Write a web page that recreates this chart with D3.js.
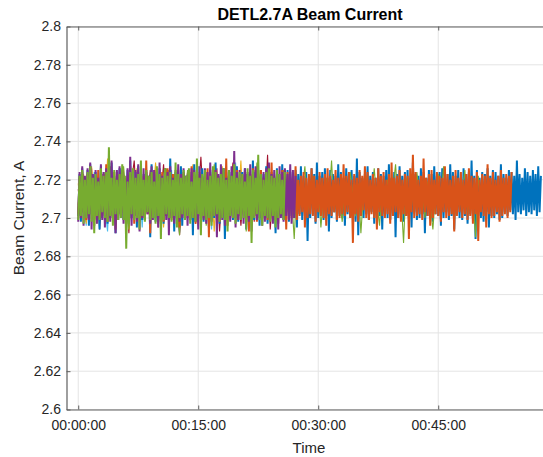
<!DOCTYPE html>
<html>
<head>
<meta charset="utf-8">
<script src="https://cdn.jsdelivr.net/npm/d3@7"></script>
<style>
  html, body { margin: 0; padding: 0; background: #fff; overflow: hidden; }
  svg { display: block; }
</style>
</head>
<body>
<svg id="chart" width="543" height="457"></svg>
<script>
// ---- Axis ticks -------------------------------------------------------
const yTicks = [2.6, 2.62, 2.64, 2.66, 2.68, 2.7, 2.72, 2.74, 2.76, 2.78, 2.8];
const yTickLabels = ["2.6", "2.62", "2.64", "2.66", "2.68", "2.7", "2.72", "2.74", "2.76", "2.78", "2.8"];
const xTickSeconds = [0, 900, 1800, 2700];
const xTickLabels = ["00:00:00", "00:15:00", "00:30:00", "00:45:00"];

// ---- Short runs: raw readings (A), one every 20 s ----------------------
const rawStepSeconds = 20;

const currentRunLightBlue = [
2.704,2.720,2.711,2.696,2.716,2.708,2.724,2.701,2.713,2.719,
2.706,2.693,2.722,2.710,2.715,2.702,2.726,2.712,2.699,2.718,
2.709,2.721,2.705,2.714,2.695,2.723,2.711,2.717,2.700,2.728,
2.707,2.713,2.697,2.720,2.710,2.725,2.703,2.716,2.692,2.719,
2.712,2.706,2.722,2.698,2.715,2.727,2.708,2.718,2.701,2.711,
2.694,2.721,2.714,2.704,2.724,2.709,2.717,2.699,2.713,2.729,
2.705,2.719,2.710,2.696,2.722,2.707,2.715,2.726,2.702,2.712,
2.718,2.708];

const currentRunDarkRed = [
2.715,2.703,2.722,2.698,2.711,2.726,2.707,2.718,2.694,2.713,
2.720,2.701,2.727,2.709,2.696,2.716,2.723,2.705,2.712,2.692,
2.719,2.730,2.704,2.714,2.699,2.721,2.710,2.725,2.702,2.717,
2.695,2.712,2.728,2.706,2.718,2.700,2.723,2.711,2.691,2.715,
2.708,2.724,2.703,2.719,2.697,2.713,2.732,2.707,2.716,2.699,
2.721,2.710,2.726,2.693,2.714,2.704,2.720,2.709,2.729,2.701,
2.717,2.696,2.712,2.723,2.706,2.718,2.698,2.725,2.711,2.715,
2.703,2.733,2.694,2.713,2.719];

const currentRunYellow = [
2.718,2.706,2.723,2.697,2.712,2.727,2.709,2.715,2.700,2.721,
2.705,2.731,2.711,2.698,2.717,2.708,2.724,2.702,2.714,2.694,
2.720,2.710,2.726,2.704,2.716,2.699,2.722,2.713,2.707,2.729,
2.701,2.718,2.695,2.711,2.725,2.708,2.719,2.698,2.714,2.723,
2.706,2.716,2.700,2.728,2.712,2.696,2.720,2.709,2.724,2.703,
2.715,2.693,2.721,2.711,2.727,2.705,2.717,2.699,2.713,2.722,
2.708,2.730,2.702,2.719,2.697,2.714,2.725,2.710,2.716,2.704,
2.720,2.698,2.712,2.718];

const currentRunGreenLong = [
2.707,2.719,2.702,2.714,2.722,2.705,2.711,2.697,2.717,2.709,
2.724,2.703,2.713,2.720,2.700,2.716,2.708,2.727,2.712,2.694,
2.718,2.710,2.704,2.721,2.715,2.701,2.719,2.706,2.723,2.711,
2.698,2.716,2.709,2.726,2.713,2.703,2.720,2.707,2.691,2.717,
2.712,2.725,2.705,2.714,2.701,2.722,2.710,2.718,2.696,2.715,
2.708,2.728,2.703,2.719,2.711,2.699,2.721,2.706,2.716,2.724,
2.709,2.702,2.717,2.693,2.713,2.720,2.705,2.729,2.712,2.700,
2.718,2.707,2.723,2.714,2.697,2.716,2.710,2.725,2.704,2.719,
2.711,2.689,2.720,2.708,2.715,2.727,2.702,2.713,2.722,2.706,
2.717,2.695,2.712,2.721,2.709,2.730,2.703,2.716,2.711,2.698,
2.719,2.707,2.724,2.713,2.701,2.718,2.692,2.714,2.722,2.705,
2.710,2.726,2.708,2.696,2.717,2.712,2.720,2.703,2.715,2.728,
2.706,2.713,2.687,2.721,2.709,2.718,2.702,2.724,2.711,2.716,
2.700,2.719,2.707,2.694,2.714,2.723,2.710,2.727,2.704,2.717,
2.712,2.697,2.720,2.708,2.715,2.725,2.701,2.718,2.711,2.690,
2.722,2.706,2.716,2.709,2.719,2.713];

// ---- Long runs: per-interval high / low readings (A), 20 s intervals ----
const binStepSeconds = 20;

const currentRunBlueHigh = [
2.723,2.726,2.721,2.725,2.728,2.722,2.724,2.720,2.727,2.723,
2.725,2.722,2.729,2.721,2.724,2.726,2.723,2.720,2.725,2.730,
2.722,2.724,2.727,2.721,2.723,2.725,2.722,2.728,2.724,2.721,
2.726,2.723,2.720,2.725,2.731,2.722,2.724,2.721,2.727,2.723,
2.722,2.725,2.724,2.728,2.721,2.723,2.726,2.722,2.720,2.725,
2.724,2.729,2.722,2.723,2.726,2.721,2.725,2.724,2.722,2.727,
2.721,2.724,2.726,2.723,2.722,2.730,2.724,2.721,2.725,2.723,
2.727,2.722,2.724,2.721,2.726,2.723,2.728,2.722,2.725,2.724,
2.721,2.725,2.723,2.727,2.722,2.724,2.720,2.726,2.723,2.729,
2.722,2.724,2.726,2.721,2.725,2.723,2.722,2.728,2.724,2.721,
2.726,2.723,2.725,2.722,2.731,2.724,2.721,2.723,2.727,2.722,
2.724,2.721,2.726,2.723,2.722,2.725,2.728,2.721,2.724,2.723,
2.727,2.722,2.724,2.725,2.721,2.729,2.723,2.722,2.726,2.724,
2.721,2.725,2.723,2.727,2.722,2.724,2.726,2.721,2.723,2.728,
2.724,2.722,2.725,2.721,2.726,2.723,2.724,2.730,2.722,2.725,
2.721,2.724,2.723,2.726,2.722,2.725,2.724,2.722,2.728,2.723,
2.721,2.725,2.724,2.722,2.730,2.723,2.721,2.726,2.724,2.722,
2.725,2.723,2.727,2.722];

const currentRunBlueLow = [
2.701,2.698,2.703,2.700,2.696,2.702,2.699,2.701,2.694,2.700,
2.702,2.697,2.700,2.701,2.692,2.702,2.700,2.699,2.703,2.698,
2.700,2.701,2.695,2.702,2.699,2.700,2.703,2.690,2.701,2.698,
2.702,2.700,2.697,2.701,2.699,2.702,2.693,2.700,2.701,2.696,
2.700,2.702,2.699,2.691,2.701,2.703,2.700,2.698,2.701,2.695,
2.702,2.700,2.701,2.697,2.700,2.689,2.702,2.701,2.699,2.700,
2.698,2.701,2.703,2.694,2.700,2.702,2.699,2.701,2.696,2.702,
2.700,2.697,2.701,2.702,2.692,2.700,2.701,2.699,2.703,2.698,
2.701,2.700,2.695,2.702,2.699,2.701,2.688,2.700,2.702,2.697,
2.700,2.702,2.699,2.701,2.693,2.700,2.703,2.698,2.701,2.700,
2.696,2.702,2.700,2.701,2.698,2.691,2.701,2.700,2.702,2.699,
2.703,2.697,2.700,2.701,2.694,2.702,2.700,2.699,2.701,2.690,
2.700,2.702,2.698,2.701,2.700,2.695,2.703,2.699,2.700,2.702,
2.692,2.701,2.700,2.698,2.702,2.701,2.696,2.700,2.703,2.699,
2.701,2.694,2.702,2.700,2.699,2.701,2.697,2.702,2.700,2.689,
2.701,2.700,2.698,2.703,2.695,2.701,2.700,2.702,2.699,2.700,
2.703,2.701,2.704,2.702,2.699,2.703,2.702,2.704,2.701,2.703,
2.702,2.704,2.701,2.703];

const currentRunOrangeHigh = [
2.721,2.724,2.720,2.723,2.726,2.722,2.719,2.725,2.721,2.723,
2.728,2.722,2.720,2.724,2.721,2.723,2.725,2.720,2.722,2.727,
2.723,2.721,2.724,2.720,2.722,2.730,2.721,2.723,2.725,2.720,
2.722,2.724,2.721,2.726,2.720,2.723,2.722,2.725,2.721,2.724,
2.720,2.723,2.727,2.722,2.721,2.724,2.720,2.722,2.726,2.723,
2.721,2.725,2.722,2.720,2.724,2.731,2.722,2.721,2.723,2.725,
2.720,2.722,2.724,2.721,2.723,2.726,2.720,2.722,2.725,2.721,
2.724,2.722,2.729,2.721,2.723,2.720,2.725,2.722,2.724,2.721,
2.723,2.727,2.720,2.722,2.724,2.721,2.723,2.726,2.722,2.720,
2.724,2.721,2.723,2.726,2.722,2.720,2.725,2.721,2.723,2.728,
2.722,2.724,2.720,2.723,2.721,2.725,2.722,2.727,2.724,2.720,
2.723,2.721,2.726,2.722,2.724,2.720,2.723,2.729,2.721,2.722,
2.725,2.720,2.723,2.722,2.726,2.733,2.724,2.720,2.722,2.731,
2.721,2.723,2.725,2.720,2.724,2.722,2.721,2.727,2.723,2.720,
2.722,2.725,2.721,2.724,2.720,2.723,2.726,2.722,2.721,2.724,
2.720,2.723,2.722,2.728,2.721,2.724,2.720,2.722,2.725,2.721,
2.723,2.722,2.724];

const currentRunOrangeLow = [
2.702,2.700,2.703,2.699,2.701,2.704,2.696,2.702,2.700,2.701,
2.703,2.698,2.701,2.700,2.694,2.702,2.701,2.703,2.699,2.700,
2.702,2.697,2.701,2.704,2.700,2.699,2.702,2.692,2.701,2.703,
2.700,2.702,2.698,2.701,2.703,2.699,2.700,2.702,2.695,2.701,
2.703,2.700,2.699,2.702,2.697,2.701,2.704,2.700,2.702,2.690,
2.701,2.703,2.700,2.698,2.702,2.701,2.696,2.703,2.700,2.702,
2.699,2.701,2.703,2.700,2.693,2.702,2.701,2.698,2.703,2.700,
2.702,2.699,2.701,2.704,2.700,2.697,2.702,2.701,2.694,2.703,
2.700,2.702,2.699,2.701,2.703,2.695,2.700,2.702,2.701,2.698,
2.703,2.701,2.700,2.696,2.702,2.701,2.703,2.699,2.700,2.702,
2.701,2.703,2.700,2.687,2.702,2.698,2.701,2.704,2.700,2.699,
2.702,2.700,2.694,2.703,2.701,2.700,2.702,2.697,2.701,2.703,
2.700,2.698,2.702,2.701,2.689,2.703,2.700,2.701,2.702,2.699,
2.703,2.701,2.696,2.700,2.702,2.701,2.698,2.703,2.700,2.701,
2.702,2.693,2.701,2.703,2.700,2.702,2.699,2.701,2.697,2.702,
2.688,2.703,2.701,2.695,2.702,2.700,2.701,2.703,2.698,2.701,
2.702,2.700,2.703];

const currentRunPurpleHigh = [
2.724,2.727,2.722,2.726,2.729,2.723,2.725,2.721,2.728,2.724,
2.726,2.723,2.730,2.722,2.725,2.727,2.724,2.721,2.726,2.732,
2.723,2.725,2.728,2.722,2.726,2.724,2.721,2.727,2.725,2.723,
2.729,2.722,2.726,2.724,2.727,2.721,2.725,2.728,2.723,2.726,
2.722,2.724,2.726,2.725,2.723,2.727,2.721,2.726,2.724,2.729,
2.722,2.725,2.723,2.728,2.726,2.721,2.724,2.727,2.735,2.724,
2.725,2.723,2.726,2.724,2.728,2.722,2.727,2.725,2.721,2.724,
2.726,2.729,2.723,2.725,2.722,2.727,2.724,2.726,2.723,2.728,
2.725,2.722];

const currentRunPurpleLow = [
2.698,2.700,2.696,2.701,2.699,2.694,2.702,2.697,2.700,2.699,
2.695,2.701,2.698,2.700,2.692,2.699,2.702,2.697,2.700,2.699,
2.696,2.701,2.698,2.693,2.700,2.699,2.702,2.697,2.699,2.700,
2.695,2.698,2.701,2.699,2.691,2.700,2.697,2.701,2.698,2.700,
2.699,2.696,2.702,2.700,2.698,2.694,2.701,2.699,2.697,2.700,
2.698,2.701,2.690,2.700,2.699,2.696,2.702,2.698,2.700,2.695,
2.699,2.701,2.697,2.700,2.698,2.693,2.701,2.699,2.700,2.696,
2.698,2.700,2.701,2.697,2.699,2.694,2.700,2.698,2.701,2.699,
2.697,2.700];

const currentRunGreenHigh = [
2.722,2.725,2.720,2.724,2.727,2.721,2.723,2.719,2.726,2.722,
2.724,2.737,2.721,2.725,2.720,2.723,2.728,2.722,2.719,2.724,
2.726,2.721,2.723,2.730,2.720,2.725,2.722,2.724,2.719,2.727,
2.723,2.721,2.726,2.722,2.724,2.720,2.729,2.723,2.721,2.725,
2.722,2.726,2.719,2.724,2.731,2.721,2.723,2.725,2.720,2.722,
2.727,2.724,2.721,2.723,2.726,2.720,2.725,2.722,2.728,2.721,
2.724,2.723,2.719,2.726,2.722,2.725,2.721,2.733,2.723,2.720,
2.724,2.726,2.722,2.721,2.725,2.723,2.720,2.724];

const currentRunGreenLow = [
2.699,2.701,2.697,2.700,2.702,2.698,2.692,2.701,2.699,2.703,
2.700,2.698,2.701,2.696,2.702,2.699,2.700,2.699,2.684,2.697,
2.702,2.699,2.700,2.694,2.701,2.698,2.703,2.699,2.700,2.697,
2.701,2.689,2.699,2.702,2.700,2.698,2.701,2.695,2.700,2.702,
2.699,2.701,2.697,2.700,2.698,2.702,2.691,2.701,2.699,2.700,
2.696,2.701,2.702,2.698,2.700,2.699,2.693,2.701,2.700,2.697,
2.702,2.699,2.700,2.698,2.701,2.687,2.700,2.702,2.699,2.696,
2.701,2.700,2.698,2.701,2.695,2.700,2.702,2.699];

// Drawing order: later runs sit on top of earlier ones.
const layers = [
  { kind: "raw",  values: currentRunLightBlue, color: "#4DBEEE" },
  { kind: "raw",  values: currentRunDarkRed,   color: "#A2142F" },
  { kind: "raw",  values: currentRunYellow,    color: "#EDB120" },
  { kind: "bins", high: currentRunBlueHigh,   low: currentRunBlueLow,   color: "#0072BD" },
  { kind: "raw",  values: currentRunGreenLong, color: "#77AC30" },
  { kind: "bins", high: currentRunOrangeHigh, low: currentRunOrangeLow, color: "#D95319" },
  { kind: "bins", high: currentRunPurpleHigh, low: currentRunPurpleLow, color: "#7E2F8E" },
  { kind: "bins", high: currentRunGreenHigh,  low: currentRunGreenLow,  color: "#77AC30" }
];

// ---- Layout ----------------------------------------------------------
const W = 543, H = 457;
const plotLeft = 66.5, plotTop = 26.5, plotBottom = 409.5;
const xDomain = [-88, 3570];
const pxPerSecond = 8 / 60;
const plotRight = plotLeft + (xDomain[1] - xDomain[0]) * pxPerSecond;
const font = "'Liberation Sans', Arial, Helvetica, sans-serif";
const textColor = "#262626";
const axisColor = "#5e5e5e";
const gridColor = "#e4e4e4";

const svg = d3.select("#chart");
svg.append("rect").attr("width", W).attr("height", H).attr("fill", "#fff");

const x = d3.scaleLinear().domain(xDomain).range([plotLeft, plotRight]);
const y = d3.scaleLinear().domain([2.6, 2.8]).range([plotBottom, plotTop]);

svg.append("defs").append("clipPath").attr("id", "plot-clip")
  .append("rect")
  .attr("x", plotLeft).attr("y", plotTop)
  .attr("width", plotRight - plotLeft).attr("height", plotBottom - plotTop);

// Grid
const grid = svg.append("g");
grid.selectAll("line.gx").data(xTickSeconds).join("line")
  .attr("x1", d => x(d)).attr("x2", d => x(d))
  .attr("y1", plotTop).attr("y2", plotBottom)
  .attr("stroke", gridColor).attr("stroke-width", 1);
grid.selectAll("line.gy").data(yTicks).join("line")
  .attr("x1", plotLeft).attr("x2", plotRight)
  .attr("y1", d => y(d)).attr("y2", d => y(d))
  .attr("stroke", gridColor).attr("stroke-width", 1);

// Traces
const traces = svg.append("g").attr("clip-path", "url(#plot-clip)");
const line = d3.line().x(d => x(d[0])).y(d => y(d[1]));

layers.forEach(layer => {
  let pts, width;
  if (layer.kind === "raw") {
    pts = layer.values.map((v, i) => [i * rawStepSeconds, v]);
    width = 1.1;
  } else {
    // each interval: its low reading, then its high reading half an interval later
    pts = [];
    layer.low.forEach((lo, i) => {
      pts.push([i * binStepSeconds, lo]);
      pts.push([i * binStepSeconds + binStepSeconds / 2, layer.high[i]]);
    });
    width = 2;
  }
  traces.append("path")
    .attr("d", line(pts))
    .attr("fill", "none")
    .attr("stroke", layer.color)
    .attr("stroke-width", width)
    .attr("stroke-linejoin", "bevel");
});

// Axes
const yAxis = d3.axisLeft(y).tickValues(yTicks)
  .tickFormat((d, i) => yTickLabels[i]).tickSizeInner(-4).tickSizeOuter(0).tickPadding(5.5);
const gy = svg.append("g").attr("transform", `translate(${plotLeft},0)`).call(yAxis);

const xAxis = d3.axisBottom(x).tickValues(xTickSeconds)
  .tickFormat((d, i) => xTickLabels[i]).tickSizeInner(-4).tickSizeOuter(0).tickPadding(11);
const gx = svg.append("g").attr("transform", `translate(0,${plotBottom})`).call(xAxis);

const xTop = d3.axisTop(x).tickValues(xTickSeconds).tickFormat("").tickSizeInner(-4).tickSizeOuter(0);
const gt = svg.append("g").attr("transform", `translate(0,${plotTop})`).call(xTop);

[gx, gy, gt].forEach(g => {
  g.selectAll("path.domain").attr("stroke", axisColor).attr("stroke-width", 1.2);
  g.selectAll(".tick line").attr("stroke", axisColor).attr("stroke-width", 1);
  g.selectAll(".tick text").attr("fill", textColor)
    .style("font-family", font).style("font-size", "14px");
});

// Titles
svg.append("text")
  .attr("x", 310).attr("y", 20)
  .attr("text-anchor", "middle")
  .style("font-family", font).style("font-size", "16px").style("font-weight", "bold")
  .attr("fill", "#000")
  .text("DETL2.7A Beam Current");

svg.append("text")
  .attr("x", 309).attr("y", 453)
  .attr("text-anchor", "middle")
  .style("font-family", font).style("font-size", "15px")
  .attr("fill", textColor)
  .text("Time");

svg.append("text")
  .attr("transform", "translate(24,218) rotate(-90)")
  .attr("text-anchor", "middle")
  .style("font-family", font).style("font-size", "15.5px")
  .attr("fill", textColor)
  .text("Beam Current, A");
</script>
</body>
</html>
